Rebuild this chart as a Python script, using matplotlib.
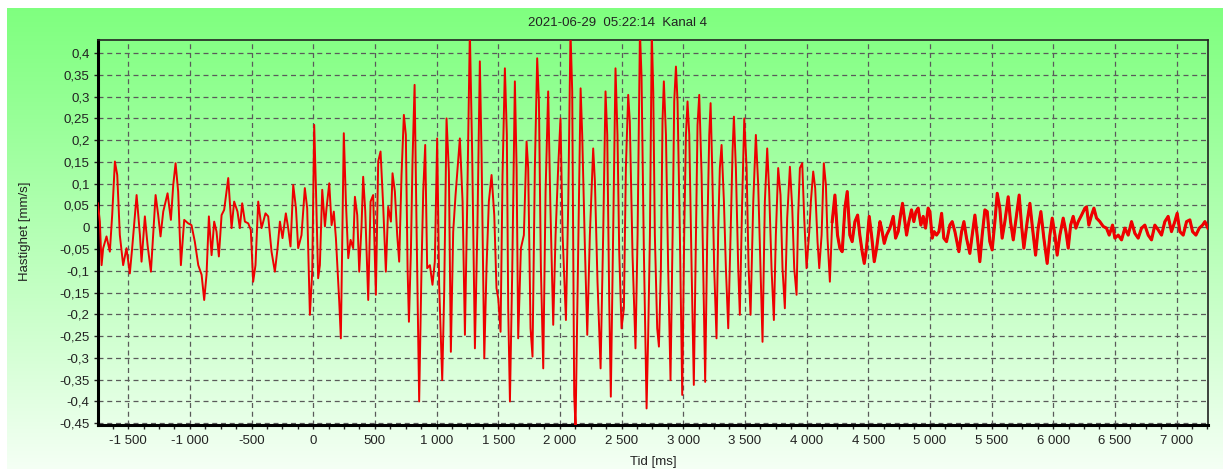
import numpy as np
import matplotlib.pyplot as plt
from matplotlib.ticker import MultipleLocator, FuncFormatter

plt.rcParams['font.family'] = ['Liberation Sans', 'DejaVu Sans']

# velocity trace (ms, mm/s)
pre_t = [-1746, -1730, -1716, -1703, -1676, -1649, -1630, -1608, -1589, -1568,
         -1541, -1514, -1487, -1468, -1432, -1405, -1392, -1365, -1343, -1316,
         -1278, -1257, -1238, -1216, -1181, -1154, -1135, -1116, -1095, -1073,
         -1046, -1014, -987, -960, -932, -905, -884, -865, -846, -824,
         -803, -784, -765, -743, -722, -703, -689, -662, -641, -614,
         -595, -576, -554, -527, -506, -487, -468, -446, -419, -387,
         -365, -338, -311, -289, -270]
pre_v = [0.055, 0.013, -0.087, -0.048, -0.021, -0.056, 0.028, 0.151, 0.120, -0.018,
         -0.087, -0.048, -0.106, -0.048, 0.074, -0.018, -0.079, 0.025, -0.041, -0.102,
         0.074, 0.028, -0.021, 0.036, 0.078, 0.017, 0.097, 0.147, 0.082, -0.087,
         0.017, 0.009, 0.005, -0.033, -0.087, -0.109, -0.167, -0.109, 0.025, -0.064,
         0.013, -0.010, -0.067, 0.028, 0.040, 0.082, 0.113, -0.002, 0.059, 0.036,
         -0.002, 0.055, 0.013, 0.009, -0.006, -0.125, -0.087, 0.059, -0.002, 0.032,
         0.025, -0.056, -0.102, -0.048, 0.013]

onset_t = [-249, -222, -203, -184, -162, -140, -122, -95, -68, -49,
           -27, -8, 8, 22, 40, 54, 73, 95, 108, 130,
           149, 167, 184, 211, 224, 248, 265, 284, 303, 324,
           338, 357, 373, 392, 405, 422, 446, 465, 486, 508,
           527, 546, 567, 589, 608, 630, 643, 662, 681, 697,
           716, 735, 751, 765, 776, 792, 805, 822, 838, 859,
           878, 892, 908, 924, 946, 967, 986, 1005, 1021, 1046,
           1062, 1081, 1100, 1116, 1135, 1154, 1189, 1211, 1230, 1248]
onset_v = [-0.025, 0.032, -0.002, -0.044, 0.097, 0.044, -0.048, -0.018, 0.090, 0.044,
           -0.201, -0.102, 0.235, 0.090, -0.117, -0.087, 0.086, 0.002, 0.044, 0.101,
           0.005, 0.036, -0.025, -0.171, -0.255, 0.216, 0.059, -0.071, -0.029, -0.048,
           0.070, 0.028, -0.102, 0.005, 0.116, 0.036, -0.167, 0.059, 0.074, -0.155,
           0.151, 0.174, 0.051, -0.102, 0.047, 0.013, 0.124, 0.082, -0.018, -0.079,
           0.120, 0.258, 0.212, -0.094, -0.217, -0.056, 0.151, 0.327, -0.002, -0.400,
           -0.094, 0.082, 0.189, -0.094, -0.087, -0.132, -0.079, 0.204, -0.132, -0.351,
           -0.148, 0.250, 0.128, -0.286, -0.010, 0.074, 0.204, 0.059, -0.247, 0.044]

strong_t = [1270, 1289, 1311, 1332, 1351, 1365, 1387, 1405, 1424, 1446,
            1468, 1486, 1500, 1519, 1535, 1554, 1570, 1581, 1595, 1614,
            1635, 1649, 1662, 1684, 1708, 1730, 1743, 1762, 1778, 1797,
            1816, 1830, 1846, 1865, 1884, 1905, 1922, 1946, 1965, 1986,
            2005, 2022, 2049, 2068, 2086, 2100, 2116, 2127, 2149, 2168,
            2181, 2203, 2222, 2243, 2270, 2284, 2305, 2330, 2351, 2370,
            2384, 2400, 2413, 2432, 2451, 2467, 2481, 2500, 2519, 2535,
            2554, 2567, 2589, 2613, 2630, 2649, 2662, 2681, 2703, 2716, 2730]
strong_v = [0.45, 0.166, -0.278, 0.013, 0.381, 0.166, -0.301, -0.094, 0.059, 0.120,
            0.028, -0.140, -0.163, -0.240, 0.120, 0.365, 0.212, -0.186, -0.400, -0.094,
            0.335, 0.136, -0.255, -0.048, -0.018, 0.197, 0.136, -0.232, -0.297, 0.136,
            0.388, 0.289, -0.094, -0.324, 0.082, 0.312, 0.059, -0.224, -0.018, 0.136,
            0.250, -0.018, -0.213, 0.059, 0.45, 0.312, -0.385, -0.46, -0.033, 0.319,
            0.212, -0.048, -0.247, -0.018, 0.181, 0.105, -0.125, -0.324, -0.018, 0.312,
            0.212, -0.171, -0.389, -0.018, 0.365, 0.212, -0.056, -0.232, -0.186, 0.136,
            0.304, 0.243, -0.064, -0.278, -0.018, 0.45, 0.346, -0.056, -0.416, -0.247, -0.018]

coda_t = [2745, 2757, 2770, 2789, 2803, 2819, 2832, 2843, 2860, 2878,
          2897, 2914, 2927, 2941, 2954, 2973, 2992, 3008, 3022, 3035,
          3049, 3068, 3086, 3103, 3116, 3130, 3149, 3162, 3178, 3195,
          3211, 3222, 3235, 3251, 3270, 3284, 3297, 3311, 3330, 3346,
          3365, 3384, 3400, 3411, 3427, 3446, 3459, 3478, 3495, 3514,
          3530, 3546, 3568, 3589, 3608, 3627, 3643, 3662, 3681, 3697,
          3716, 3735, 3751, 3770, 3789, 3805, 3824, 3843, 3865, 3884,
          3900, 3919, 3932, 3946, 3965, 3981, 4000, 4022, 4035, 4054,
          4070, 4089, 4103, 4122, 4140, 4157, 4170, 4189, 4208]
coda_v = [0.45, 0.312, -0.018, -0.232, -0.274, -0.094, 0.243, 0.335, 0.212, -0.094,
          -0.351, -0.018, 0.289, 0.369, 0.289, -0.018, -0.385, -0.018, 0.212, 0.289,
          0.212, -0.094, -0.362, -0.018, 0.235, 0.304, 0.120, -0.094, -0.355, -0.018,
          0.212, 0.285, 0.136, -0.094, -0.255, -0.002, 0.136, 0.189, 0.059, -0.094,
          -0.232, -0.018, 0.174, 0.254, 0.136, -0.094, -0.201, 0.059, 0.250, 0.136,
          -0.094, -0.201, 0.059, 0.212, 0.097, -0.094, -0.263, 0.059, 0.181, 0.082,
          -0.094, -0.213, -0.018, 0.136, 0.074, -0.094, -0.186, 0.021, 0.139, 0.044,
          -0.094, -0.155, 0.028, 0.136, 0.147, 0.021, -0.094, -0.010, 0.059, 0.128,
          0.090, -0.033, -0.094, -0.018, 0.147, 0.097, -0.025, -0.125, 0.013]

tail_t = [4230, 4251, 4270, 4289, 4311, 4330, 4351, 4370, 4392, 4414,
          4432, 4451, 4468, 4486, 4508, 4527, 4549, 4568, 4595, 4608,
          4630, 4649, 4676, 4703, 4722, 4743, 4762, 4778, 4797, 4811,
          4830, 4851, 4870, 4887, 4905, 4927, 4946, 4965, 4986, 5000,
          5019, 5035, 5054, 5073, 5095, 5113, 5135, 5162, 5181, 5203,
          5235, 5257, 5276, 5297, 5324, 5343, 5365, 5386, 5405, 5424,
          5446, 5465, 5486, 5505, 5527, 5546, 5567, 5586, 5608, 5635,
          5654, 5676, 5703, 5724, 5743, 5762]
tail_v = [0.074, -0.018, -0.048, -0.056, 0.044, 0.082, -0.018, -0.033, 0.013, 0.028,
          -0.018, -0.056, -0.083, -0.048, 0.025, -0.018, -0.079, -0.048, 0.013, -0.002,
          -0.037, -0.018, -0.002, 0.025, -0.025, -0.010, 0.028, 0.055, 0.013, -0.018,
          0.013, 0.040, 0.013, 0.036, 0.044, 0.005, 0.025, -0.002, 0.044, 0.036,
          -0.025, -0.010, -0.018, -0.010, 0.032, -0.025, -0.033, 0.005, 0.013, -0.010,
          -0.056, -0.010, 0.013, -0.025, -0.060, -0.018, 0.028, -0.025, -0.079, -0.018,
          0.040, 0.036, -0.033, -0.052, 0.013, 0.078, 0.044, -0.025, 0.013, 0.070,
          0.013, -0.029, 0.028, 0.074, 0.005, -0.048]

end_t = [5789, 5811, 5832, 5857, 5878, 5900, 5924, 5951, 5973, 5992,
         6014, 6032, 6054, 6081, 6103, 6122, 6141, 6162, 6184, 6203,
         6230, 6257, 6270, 6289, 6311, 6330, 6351, 6378, 6405, 6432,
         6454, 6481, 6500, 6527, 6554, 6581, 6608, 6635, 6662, 6689,
         6716, 6743, 6770, 6797, 6824, 6851, 6878, 6905, 6932, 6959,
         6986, 7005, 7027, 7054, 7081, 7108, 7130, 7157, 7184, 7211,
         7230, 7254]
end_v = [0.013, 0.055, -0.002, -0.064, -0.002, 0.036, -0.025, -0.083, -0.018, 0.021,
         -0.018, -0.064, -0.018, 0.021, -0.010, -0.048, 0.005, 0.025, -0.002, 0.013,
         0.028, 0.044, 0.047, 0.005, 0.028, 0.044, 0.021, 0.013, 0.002, -0.002,
         -0.018, 0.005, -0.025, -0.018, -0.029, -0.002, -0.018, 0.013, -0.014, -0.025,
         -0.002, 0.005, -0.018, -0.029, 0.005, -0.006, -0.018, 0.013, 0.025, -0.010,
         0.013, 0.032, -0.010, -0.018, 0.013, 0.017, -0.010, -0.018, -0.002, 0.005,
         0.013, -0.002]

title = '2021-06-29  05:22:14  Kanal 4'
W, H = 1223, 469

t = np.array(pre_t + onset_t + strong_t + coda_t + tail_t + end_t, dtype=float)
v = np.array(pre_v + onset_v + strong_v + coda_v + tail_v + end_v)

fig = plt.figure(figsize=(W / 100, H / 100), dpi=100, facecolor='white')

# green panel with a vertical gradient behind everything
bg = fig.add_axes([7 / W, 0, 1 - 7 / W, 461 / H], zorder=0)
s = np.linspace(0, 1, 256)[:, None, None] ** 1.1
top = np.array([0.50, 1.0, 0.50])
bottom = np.array([0.96, 1.0, 0.96])
bg.imshow(top + (bottom - top) * s, aspect='auto', extent=[0, 1, 0, 1])
bg.axis('off')

ax = fig.add_axes([98 / W, 44 / H, 1110 / W, 385 / H], zorder=1)
ax.set_facecolor('none')

ax.plot(t, v, color='#ee0000', lw=1.4, zorder=3)
# the quiet tail is a noisy band in the original, so draw it heavier
m = t >= 4200
ax.plot(t[m], v[m], color='#ee0000', lw=2.2, zorder=3)

ax.set_xlim(-1745, 7255)
ax.set_ylim(-0.454, 0.43)

ax.xaxis.set_major_locator(MultipleLocator(500))
ax.xaxis.set_minor_locator(MultipleLocator(125))
ax.yaxis.set_major_locator(MultipleLocator(0.05))
ax.xaxis.set_major_formatter(FuncFormatter(lambda x, p: format(int(round(x)), ',').replace(',', ' ')))
ax.yaxis.set_major_formatter(FuncFormatter(lambda y, p: ('%g' % round(y, 2)).replace('.', ',')))

ax.tick_params(axis='both', which='both', direction='out', width=1, colors='#222222',
               labelsize=9.5, labelcolor='#222222')
ax.tick_params(axis='x', which='major', length=3, pad=4.5)
ax.tick_params(axis='x', which='minor', length=3)
ax.tick_params(axis='y', which='major', length=3, pad=3)

ax.set_axisbelow(True)
ax.grid(True, which='major', color='#5a5a5a', lw=0.9, linestyle=(0, (4, 3)))

for side in ['left', 'bottom']:
    ax.spines[side].set_linewidth(2.2)
    ax.spines[side].set_color('black')
for side in ['top', 'right']:
    ax.spines[side].set_linewidth(1.2)
    ax.spines[side].set_color('#222222')

fig.text(618 / W, 1 - 23 / H, title, ha='center', va='center', fontsize=9.5, color='#222222')
fig.text(653 / W, 1 - 462 / H, 'Tid [ms]', ha='center', va='center', fontsize=9.5, color='#222222')
fig.text(25 / W, 1 - 231 / H, 'Hastighet [mm/s]', ha='center', va='center',
         rotation=90, fontsize=9.5, color='#222222')

fig.savefig('out.png', dpi=100, facecolor='white')
